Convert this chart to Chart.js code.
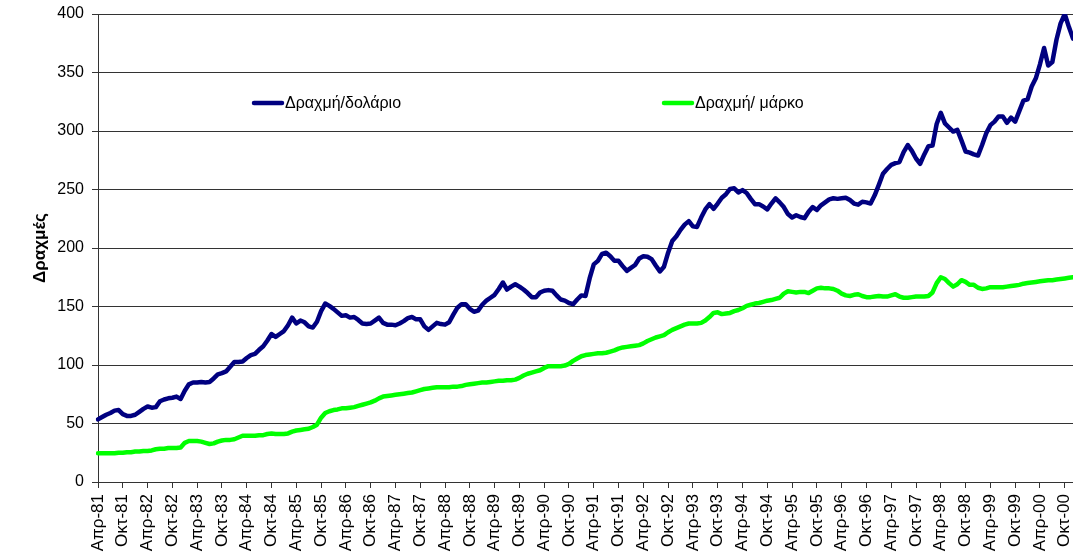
<!DOCTYPE html>
<html>
<head>
<meta charset="utf-8">
<script src="https://cdn.jsdelivr.net/npm/chart.js@4.4.1/dist/chart.umd.min.js"></script>
<style>
  html, body { margin: 0; padding: 0; background: #fff; }
  #wrap { width: 1073px; height: 559px; }
</style>
</head>
<body>
<div id="wrap"><canvas id="chart" width="1073" height="559"></canvas></div>
<script>
// Monthly rates, April 1981 to December 2000
const monthNames = ['Ιαν', 'Φεβ', 'Μαρ', 'Απρ', 'Μαϊ', 'Ιουν', 'Ιουλ', 'Αυγ', 'Σεπ', 'Οκτ', 'Νοε', 'Δεκ'];
const startYear = 1981;
const startMonth = 3; // April

const dollar = [
  53.5, 55.5, 57.5, 59, 61, 61.5, 58, 56.5, 56.5, 57.5, 60, 62.5,
  64.5, 63.5, 64, 69, 70.5, 71.5, 72, 73, 71, 78, 83.5, 85,
  85, 85.5, 85, 85.5, 88.5, 92, 93, 94.5, 98.5, 102.5, 102.5, 103,
  106, 108.5, 109.5, 113, 116, 121, 126.5, 124, 126.5, 129, 134, 140.5,
  135.5, 138, 136.5, 133, 132, 137, 146, 152.5, 150.5, 148, 145, 142,
  142.5, 140.5, 141, 138.5, 135.5, 135, 135.5, 138, 140.5, 136, 134.5, 134.5,
  134, 135.5, 137.5, 140, 141, 139, 139, 133, 130, 133, 136, 135,
  134.5, 136.5, 143, 149, 152, 152, 148, 145.5, 146.5, 151.5, 155, 157.5,
  160, 165, 170.5, 164.5, 167, 169, 167, 164.5, 161.5, 158, 158, 162,
  163.5, 164, 163.5, 159.5, 156, 155, 153, 152, 156, 159.5, 159, 174,
  186, 189, 195, 196, 193, 189, 189, 184.5, 180.5, 183, 185.5, 191,
  193, 192.5, 190.5, 185, 180, 184, 196, 206, 210, 215.5, 220, 223,
  218.5, 218, 226, 233, 237.5, 233.5, 238, 243, 246, 250.5, 251, 247.5,
  249.5, 247, 242, 237.5, 237.5, 235.5, 233, 238, 242.5, 239, 235, 229,
  226, 228, 226.5, 225.5, 231, 235, 232.5, 236.5, 239, 241.5, 242.5, 242,
  242.5, 243, 241, 238, 237, 239.5, 239, 238, 245, 254, 263.5, 267.5,
  271, 272.5, 273.5, 282, 288, 283, 276.5, 272, 280, 287, 287.5, 306,
  315.5, 306.5, 303, 299.5, 301, 292, 282.5, 281.5, 280, 279, 288, 298,
  305, 308, 312.5, 312.5, 307, 311.5, 308, 317, 326, 327, 338, 345,
  357, 371, 356, 359, 378, 392, 400, 389, 379
];

const mark = [
  24.5, 24.5, 24.5, 24.5, 24.5, 25, 25, 25.5, 25.5, 26, 26, 26.5,
  26.5, 27, 28, 28.5, 28.5, 29, 29, 29, 29.5, 33.5, 35, 35,
  35, 34.5, 33.5, 32.5, 33, 34.5, 35.5, 36, 36, 36.5, 38, 39.5,
  39.5, 39.5, 39.5, 40, 40, 41, 41.5, 41, 41, 41, 41.5, 43,
  44, 44.5, 45, 45.5, 47, 49, 55, 59, 60.5, 61.5, 62, 63,
  63, 63.5, 64, 65, 66, 67, 68, 69.5, 71.5, 73, 73.5, 74,
  74.5, 75, 75.5, 76, 76.5, 77.5, 78.5, 79.5, 80, 80.5, 81, 81,
  81, 81, 81.5, 81.5, 82, 83, 83.5, 84, 84.5, 85, 85, 85.5,
  86, 86.5, 86.5, 87, 87, 87.5, 89, 91, 92.5, 93.5, 94.5, 95.5,
  97.5, 99, 99, 99, 99, 99.5, 101, 103.5, 105.5, 107.5, 108.5, 109,
  109.5, 110, 110, 110.5, 111.5, 112.5, 114, 115, 115.5, 116, 116.5, 117,
  118.5, 120.5, 122, 123.5, 124.5, 125.5, 128, 130, 131.5, 133, 134.5, 135.5,
  135.5, 135.5, 136, 138, 141, 144.5, 145, 143.5, 144, 144.5, 146, 147,
  148.5, 150.5, 151.5, 152.5, 153, 154, 155, 155.5, 156.5, 157.5, 161, 163,
  162.5, 162, 162.5, 162.5, 161.5, 163.5, 165.5, 166, 165.5, 165.5, 165, 163.5,
  161, 159.5, 159, 160, 160.5, 159, 158, 158, 158.5, 159, 158.5, 158.5,
  159.5, 160.5, 158.5, 157.5, 157.5, 158, 158.5, 158.5, 158.5, 159, 162, 170,
  175, 173.5, 170, 167, 169, 172.5, 171, 168.5, 168.5, 166, 165, 165.5,
  166.5, 166.5, 166.5, 166.5, 167, 167.5, 168, 168.5, 169.5, 170, 170.5, 171,
  171.5, 172, 172.5, 172.5, 173, 173.5, 174, 174.5, 175
];

const seriesNames = ['Δραχμή/δολάριο', 'Δραχμή/ μάρκο'];
const yTitle = 'Δραχμές';
const yMin = 0, yMax = 400, yStep = 50;
const labelEvery = 6;

const labels = dollar.map((_, i) => {
  const m = startMonth + i;
  const yy = (startYear + Math.floor(m / 12)) % 100;
  return monthNames[m % 12] + '-' + String(yy).padStart(2, '0');
});

const FONT = "'Liberation Sans', Arial, sans-serif";
const AXIS = '#333333';

// legend drawn inside the plot, like the original
const inlineLegend = {
  id: 'inlineLegend',
  afterDraw(chart, args, opts) {
    const ctx = chart.ctx;
    ctx.save();
    ctx.font = opts.font;
    ctx.textBaseline = 'middle';
    ctx.textAlign = 'left';
    chart.data.datasets.forEach((ds, i) => {
      const x = opts.xs[i];
      ctx.strokeStyle = ds.borderColor;
      ctx.lineWidth = 4.5;
      ctx.lineCap = 'round';
      ctx.beginPath();
      ctx.moveTo(x, opts.y);
      ctx.lineTo(x + opts.sample, opts.y);
      ctx.stroke();
      ctx.fillStyle = '#000';
      ctx.fillText(ds.label, x + opts.sample + 3, opts.y + 1);
    });
    ctx.restore();
  }
};

new Chart(document.getElementById('chart'), {
  type: 'line',
  data: {
    labels: labels,
    datasets: [
      {
        label: seriesNames[0],
        data: dollar,
        borderColor: '#000080',
        borderWidth: 4.5,
        pointRadius: 0,
        tension: 0,
        borderJoinStyle: 'round',
        borderCapStyle: 'round'
      },
      {
        label: seriesNames[1],
        data: mark,
        borderColor: '#00ff00',
        borderWidth: 4.5,
        pointRadius: 0,
        tension: 0,
        borderJoinStyle: 'round',
        borderCapStyle: 'round'
      }
    ]
  },
  options: {
    responsive: false,
    animation: false,
    devicePixelRatio: 1,
    layout: { padding: { top: 14, right: 0, bottom: 0, left: 0 } },
    plugins: {
      legend: { display: false },
      tooltip: { enabled: false },
      inlineLegend: { y: 103, xs: [254, 664], sample: 28, font: '16px ' + FONT }
    },
    scales: {
      x: {
        type: 'category',
        offset: false,
        afterBuildTicks: s => { s.ticks = s.ticks.filter((t, i) => i % labelEvery === 0); },
        afterFit: s => { s.height = 77; s.paddingLeft = 0; s.paddingRight = 0; },
        grid: { drawOnChartArea: false, drawTicks: true, tickLength: 6, color: AXIS, lineWidth: 1 },
        border: { display: true, color: AXIS, width: 1 },
        ticks: {
          autoSkip: false,
          minRotation: 90,
          maxRotation: 90,
          padding: 6,
          color: '#000',
          font: { family: FONT, size: 17 }
        }
      },
      y: {
        min: yMin,
        max: yMax,
        afterFit: s => { s.width = 98; s.paddingTop = 0; s.paddingBottom = 0; },
        grid: { color: AXIS, lineWidth: 1, drawTicks: true, tickLength: 6 },
        border: { display: true, color: AXIS, width: 1 },
        ticks: {
          stepSize: yStep,
          padding: 8,
          color: '#000',
          font: { family: FONT, size: 16 }
        },
        title: {
          display: true,
          text: yTitle,
          color: '#000',
          font: { family: FONT, size: 17, weight: 'bold' },
          padding: { top: 30, bottom: 0 }
        }
      }
    }
  },
  plugins: [inlineLegend]
});
</script>
</body>
</html>
